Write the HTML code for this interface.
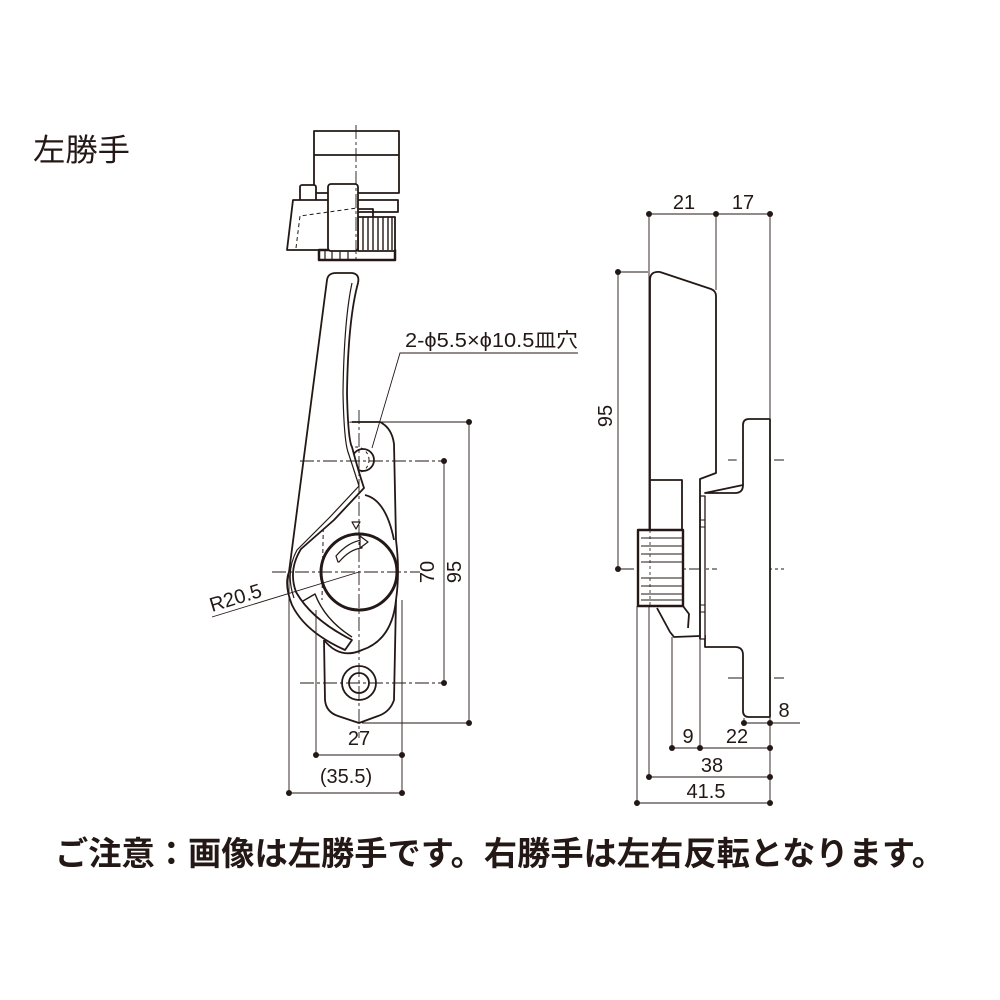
<!DOCTYPE html>
<html><head><meta charset="utf-8"><style>
html,body{margin:0;padding:0;background:#fff}
svg{display:block}
text{font-family:"Liberation Sans","Noto Sans CJK JP",sans-serif;fill:#231815}
</style></head><body>
<svg width="1000" height="1000" viewBox="0 0 1000 1000" xmlns="http://www.w3.org/2000/svg">
<rect width="1000" height="1000" fill="#fff"/>
<text x="33" y="161" font-size="31" textLength="97" lengthAdjust="spacingAndGlyphs" font-family="'Noto Sans CJK JP',sans-serif">左勝手</text>
<text x="55" y="865" font-size="33" font-weight="bold" textLength="890" lengthAdjust="spacingAndGlyphs" font-family="'Noto Sans CJK JP',sans-serif">ご注意：画像は左勝手です。右勝手は左右反転となります。</text>

<g fill="none" stroke="#231815" stroke-width="1.8" stroke-linejoin="round">
<rect x="314" y="131" width="85" height="62" fill="#fff"/>
<line x1="314" y1="155" x2="399" y2="155"/>
<rect x="300" y="185" width="16" height="16" rx="2" fill="#fff"/>
<path d="M358 200 L398 200 L398 212 L358 212" fill="#fff"/>
<path d="M293 200 L330 200 L330 250 L287 250 Z" fill="#fff"/>
<rect x="319" y="250" width="76" height="10" fill="#fff" stroke-width="2.5"/>
<rect x="358" y="217" width="37" height="34" fill="#fff"/>
<path d="M363 217V250M368 217V250M373 217V250M378 217V250M383 217V250M388 217V250M392 217V250" stroke-width="1.4"/>
<path d="M325 250V259M332 250V259M340 250V259M348 250V259" stroke-width="1.2"/>
<rect x="328" y="184" width="30" height="67" rx="3" fill="#fff"/>
<path d="M358 209 L373 209 L373 217" />
<path d="M296 248 L300 216 L357 208" stroke-dasharray="4 3" stroke-width="1"/>

<path d="M352 422 L380 422 Q392 428 394 444 L396 540 Q400 572 396 600 L394 700 Q390 712 378 716 L359 723 L338 716 Q326 712 325 700 L324 640" fill="#fff"/>
<path d="M365 495 Q386 500 394 540"/>
<path d="M324 640 Q340 660 362 650 Q392 640 396 600"/>
<path d="M324 432 Q330 424 352 422 M325 430 L322 600" stroke-dasharray="4 3" stroke-width="1"/>
<path d="M322 510 Q330 500 355 496" stroke-dasharray="4 3" stroke-width="1"/>
<circle cx="359" cy="683" r="17"/>
<circle cx="359" cy="683" r="10"/>
<circle cx="363" cy="460" r="11"/>
<circle cx="356" cy="460" r="13" stroke-dasharray="3 3" stroke-width="1"/>
<path d="M327 280 Q328 273 336 273 L352 273 Q360 274 358 283 Q348 320 347 393 Q348 440 352 447 Q358 470 364 488 L334 520 L301 549 Q288 570 296 592 Q312 620 352 640 L345 650 Q305 632 292 605 Q284 585 289 572 Z" fill="#fff"/>
<path d="M352 283 Q344 320 343 393 Q344 440 348 452 Q354 470 359 486 L330 517 L297 550 Q285 572 294 598" stroke-width="1.2"/>
<path d="M303 601 L315 594 Q325 620 352 637" stroke-width="1.4"/>
<circle cx="359" cy="572" r="38" fill="#fff" stroke-width="3"/>
<path d="M338 562 L336 556 Q348 542 362 540 L362 548 Q350 549 339 562Z" fill="#fff" stroke-width="1.2"/>
<path d="M360 536 L368 542 L360 548Z" fill="#fff" stroke-width="1.2"/>
<path d="M352 522 L360 522 L356 529Z" fill="#fff" stroke-width="1.2"/>
</g>

<g stroke="#231815" stroke-width="0.9" fill="none" stroke-dasharray="14 3 3 3">
<line x1="356" y1="125" x2="356" y2="262"/>
<line x1="359" y1="410" x2="359" y2="738"/>
<line x1="300" y1="461" x2="444" y2="461"/>
<line x1="300" y1="683" x2="444" y2="683"/>
<line x1="272" y1="572" x2="420" y2="572"/>
<line x1="620" y1="569" x2="784" y2="569"/>
<line x1="728" y1="460" x2="784" y2="460"/>
<line x1="728" y1="678" x2="784" y2="678"/>
</g>

<g stroke="#231815" stroke-width="0.9" fill="none">
<path d="M355 422H469M362 723H469M469 422V723M444 461V683"/>
<path d="M316 610V755M402 600V793M316 755H402M289 572V793M289 793H402"/>
<path d="M212 617 L359 572"/>
<path d="M578 353 H400 L372 448"/>
<path d="M649 214H770M649 214V777M716 214V290M770 214V418M770 718V803"/>
<path d="M618 272H648M618 272V569"/>
<path d="M744 718V723M744 723H800"/>
<path d="M672 637V748M700 639V748M672 748H770"/>
<path d="M649 777H770M637 606V803M637 803H770"/>
</g>
<g fill="#231815">
<circle cx="469" cy="422" r="3"/><circle cx="469" cy="723" r="3"/>
<circle cx="444" cy="461" r="3"/><circle cx="444" cy="683" r="3"/>
<circle cx="316" cy="755" r="3"/><circle cx="402" cy="755" r="3"/>
<circle cx="289" cy="793" r="3"/><circle cx="402" cy="793" r="3"/>
<circle cx="649" cy="214" r="3"/><circle cx="716" cy="214" r="3"/><circle cx="770" cy="214" r="3"/>
<circle cx="618" cy="272" r="3"/><circle cx="618" cy="569" r="3"/>
<circle cx="744" cy="723" r="3"/><circle cx="770" cy="723" r="3"/>
<circle cx="672" cy="748" r="3"/><circle cx="700" cy="748" r="3"/><circle cx="770" cy="748" r="3"/>
<circle cx="649" cy="777" r="3"/><circle cx="770" cy="777" r="3"/>
<circle cx="637" cy="803" r="3"/><circle cx="770" cy="803" r="3"/>
</g>

<g fill="none" stroke="#231815" stroke-width="1.8" stroke-linejoin="round">
<path d="M743 425 Q743 419 749 419 L770 419 L770 717 L749 717 Q743 717 743 711 L743 655 Q743 647 735 647 L705 647 L705 635 M705 493 L735 493 Q743 493 743 485 Z" fill="#fff"/>
<path d="M743 485 L743 425"/>
<path d="M700 496 L705 496 L705 639 L700 639 Z" fill="#fff" stroke-width="1.3"/>
<path d="M700 520H705M700 527H705M700 605H705M700 612H705" stroke-width="1"/>
<path d="M650 480 L650 280 Q650 271 660 272 L711 289 Q716 291 716 296 L716 473 L700 479 L700 639"/>
<path d="M650 480 L682 480 L682 530 M650 480 L650 530"/>
<path d="M657 608 L670 632 L674 637 L700 636 M683 606 L689 614 L688 628"/>
<rect x="638" y="530" width="45" height="76" fill="#fff" stroke-width="2.4"/>
<path d="M641 538H683M641 546H683M641 554H683M641 562H683M641 578H683M641 586H683M641 594H683M641 600H683" stroke-width="1"/>
</g>
<line x1="650" y1="530" x2="650" y2="606" stroke="#231815" stroke-width="0.8" stroke-dasharray="3 3"/>

<g font-size="20">
<text x="405" y="347" textLength="173" lengthAdjust="spacingAndGlyphs">2-ϕ5.5×ϕ10.5皿穴</text>
<text x="359" y="745" text-anchor="middle">27</text>
<text x="346" y="783" text-anchor="middle">(35.5)</text>
<text transform="translate(212 612) rotate(-17)">R20.5</text>
<text transform="translate(434 572) rotate(-90)" text-anchor="middle">70</text>
<text transform="translate(461 572) rotate(-90)" text-anchor="middle">95</text>
<text transform="translate(612 416) rotate(-90)" text-anchor="middle">95</text>
<text x="684" y="209" text-anchor="middle">21</text>
<text x="743" y="209" text-anchor="middle">17</text>
<text x="784" y="717" text-anchor="middle">8</text>
<text x="688" y="743" text-anchor="middle">9</text>
<text x="737" y="743" text-anchor="middle">22</text>
<text x="712" y="772" text-anchor="middle">38</text>
<text x="706" y="798" text-anchor="middle">41.5</text>
</g>
</svg>
</body></html>
